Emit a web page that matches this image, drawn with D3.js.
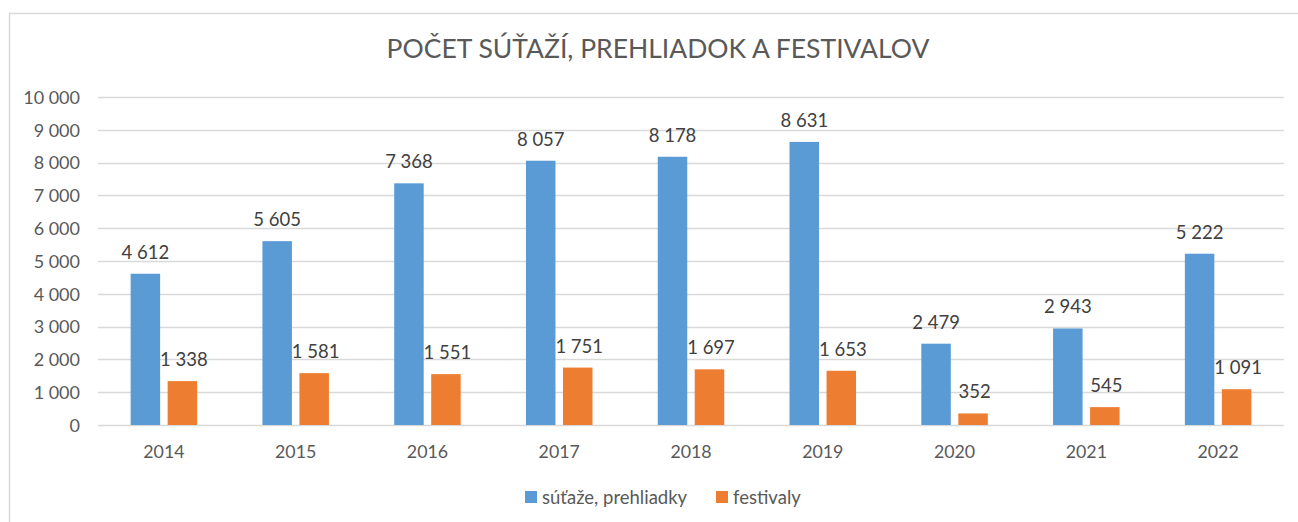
<!DOCTYPE html>
<html>
<head>
<meta charset="utf-8">
<script src="https://cdn.jsdelivr.net/npm/d3@7"></script>
<style>
  html, body { margin: 0; padding: 0; background: #fff; overflow: hidden; }
  svg { display: block; font-family: Lato, "Open Sans", sans-serif; }
</style>
</head>
<body>
<svg id="chart" width="1298" height="522"></svg>
<script>
// Počet súťaží, prehliadok a festivalov podľa rokov
const years = ["2014", "2015", "2016", "2017", "2018", "2019", "2020", "2021", "2022"];
const seriesNames = ["súťaže, prehliadky", "festivaly"];
const competitions = [4612, 5605, 7368, 8057, 8178, 8631, 2479, 2943, 5222];
const festivals = [1338, 1581, 1551, 1751, 1697, 1653, 352, 545, 1091];
const yTicks = [0, 1000, 2000, 3000, 4000, 5000, 6000, 7000, 8000, 9000, 10000];
const colors = ["#5B9BD5", "#ED7D31"];
const title = "POČET SÚŤAŽÍ, PREHLIADOK A FESTIVALOV";

const svg = d3.select("#chart");
const plot = { left: 98, right: 1284, top: 97, bottom: 425 };
const textColor = "#595959";
const gridColor = "#D9D9D9";

const sk = d3.formatLocale({ decimal: ",", thousands: " ", grouping: [3], currency: ["", " €"] });
const fmt = sk.format(",d");

// chart area frame
svg.append("rect")
  .attr("x", 9.5).attr("y", 13.5)
  .attr("width", 1310).attr("height", 530)
  .attr("fill", "#fff")
  .attr("stroke", gridColor).attr("stroke-width", 1.5);

// title
svg.append("text")
  .attr("x", 658).attr("y", 58)
  .attr("text-anchor", "middle")
  .attr("font-size", 26.5)
  .attr("fill", textColor)
  .text(title);

const x0 = d3.scaleBand().domain(years).range([plot.left, plot.right]).padding(0);
const groupW = 66.5;
const x1 = d3.scaleBand().domain(seriesNames).range([-groupW / 2, groupW / 2]).paddingInner(0.2027).paddingOuter(0);
const y = d3.scaleLinear().domain([0, 10000]).range([plot.bottom, plot.top]);

// gridlines
svg.append("g")
  .selectAll("line")
  .data(yTicks)
  .join("line")
  .attr("x1", plot.left).attr("x2", plot.right)
  .attr("y1", d => Math.round(y(d)) + 0.5).attr("y2", d => Math.round(y(d)) + 0.5)
  .attr("stroke", gridColor).attr("stroke-width", 1.5);

// y-axis labels
const yAxis = d3.axisLeft(y).tickValues(yTicks).tickFormat(fmt).tickSize(0).tickPadding(0);
const yg = svg.append("g").attr("transform", `translate(80,0)`).call(yAxis);
yg.select(".domain").remove();
yg.selectAll("text")
  .attr("font-family", "Lato, 'Open Sans', sans-serif")
  .attr("font-size", 18).attr("fill", textColor).attr("dy", "0.35em");

// x-axis labels
const xAxis = d3.axisBottom(x0).tickSize(0).tickPadding(0);
const xg = svg.append("g").attr("transform", `translate(0,${plot.bottom})`).call(xAxis);
xg.select(".domain").remove();
xg.selectAll("text")
  .attr("font-family", "Lato, 'Open Sans', sans-serif")
  .attr("font-size", 17.8).attr("fill", textColor)
  .attr("y", 33).attr("dy", 0);

const rows = years.map((yr, i) => ({ year: yr, values: [competitions[i], festivals[i]] }));

const groups = svg.append("g").selectAll("g")
  .data(rows)
  .join("g")
  .attr("transform", d => `translate(${x0(d.year) + x0.bandwidth() / 2},0)`);

const cells = d => d.values.map((v, k) => ({ name: seriesNames[k], value: v, k }));

groups.selectAll("rect")
  .data(cells)
  .join("rect")
  .attr("x", d => x1(d.name))
  .attr("width", x1.bandwidth())
  .attr("y", d => y(d.value))
  .attr("height", d => y(0) - y(d.value))
  .attr("fill", d => colors[d.k]);

groups.selectAll("text.val")
  .data(cells)
  .join("text")
  .attr("class", "val")
  .attr("x", d => x1(d.name) + x1.bandwidth() / 2 + (d.k === 1 ? 1.5 : 0))
  .attr("y", d => y(d.value) - 15)
  .attr("text-anchor", "middle")
  .attr("font-size", 18.5)
  .attr("fill", "#404040")
  .text(d => fmt(d.value));

// legend
const legendItems = [
  { name: seriesNames[0], color: colors[0], x: 525 },
  { name: seriesNames[1], color: colors[1], x: 716 }
];
const lg = svg.append("g").selectAll("g")
  .data(legendItems)
  .join("g")
  .attr("transform", d => `translate(${d.x},491)`);
lg.append("rect").attr("width", 12).attr("height", 12).attr("fill", d => d.color);
lg.append("text")
  .attr("x", 17).attr("y", 12.5)
  .attr("font-size", 18.5).attr("fill", textColor)
  .text(d => d.name);
</script>
</body>
</html>
